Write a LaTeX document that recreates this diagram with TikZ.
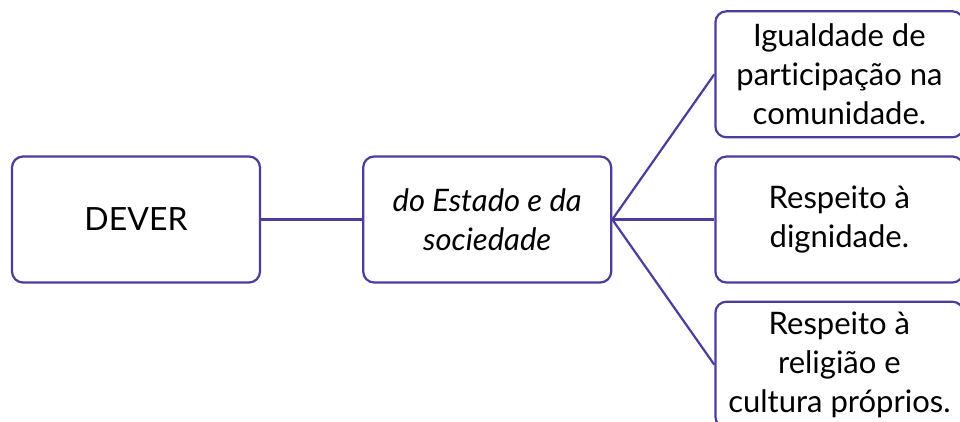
\documentclass[tikz,border=0pt]{standalone}
\usepackage{fontspec}
\setmainfont{Lato}[Ligatures={NoCommon,NoRare}]
\usepackage{tikz}
\usetikzlibrary{positioning}
\definecolor{roxo}{RGB}{76,60,158}
\tikzset{
    %Define style for boxes
    caixa/.style={
           rectangle,
           rounded corners=11pt,
           draw=roxo, line width=2.2pt,
           minimum width=248pt,
           minimum height=126pt,
           font=\fontsize{31}{39}\selectfont,
           align=center,
           fill=white},
    % Define line style
    liga/.style={
           draw=roxo,
           line width=2.2pt}
}
\begin{document}
\begin{tikzpicture}[x=1pt,y=1pt,node distance=101pt]
\clip (0,0) rectangle (960,421);
\fill[white] (0,0) rectangle (960,421);
\node[caixa, font=\fontsize{32}{39}\selectfont](dever) at (136,201.5){DEVER};
\node[caixa, right=of dever](estado){\itshape do Estado e da\\\itshape sociedade};
\node[caixa, right=102pt of estado](dign){Respeito à\\dignidade.};
\node[caixa, above=17pt of dign](igual){Igualdade de\\participação na\\comunidade.};
\node[caixa, below=17pt of dign](relig){Respeito à\\religião e\\cultura próprios.};
\draw[liga] (dever.east) -- (estado.west);
\draw[liga] (estado.east) -- (igual.west);
\draw[liga] (estado.east) -- (dign.west);
\draw[liga] (estado.east) -- (relig.west);
\end{tikzpicture}
\end{document}
